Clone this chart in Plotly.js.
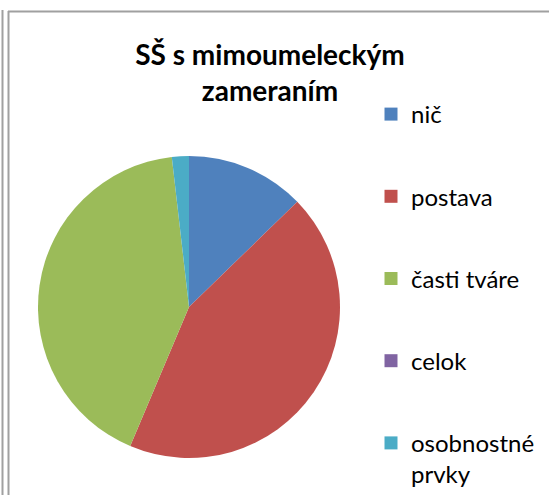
<!DOCTYPE html>
<html>
<head>
<meta charset="utf-8">
<script src="https://cdn.plot.ly/plotly-3.0.1.min.js"></script>
<style>html,body{margin:0;padding:0;background:#fff;}#chart{width:549px;height:495px;}</style>
</head>
<body>
<div id="chart"></div>
<script>
const chartTitle = "SŠ s mimoumeleckým<br>zameraním";
const categories = ["nič", "postava", "časti tváre", "celok", "osobnostné<br>prvky"];
const values = [7, 24, 23, 0, 1];
const colors = ["#4F81BD", "#C0504D", "#9BBB59", "#8064A2", "#4BACC6"];

const traces = [{
  type: "pie",
  labels: categories,
  values: values,
  sort: false,
  direction: "clockwise",
  rotation: 0,
  textinfo: "none",
  hoverinfo: "label+value+percent",
  marker: {colors: colors, line: {width: 0}},
  showlegend: false,
  domain: {x: [38/549, 340/549], y: [1 - 458/495, 1 - 156/495]}
}];
categories.forEach((c, i) => {
  traces.push({
    type: "scatter", mode: "markers", x: [null], y: [null],
    name: c, legendgroup: "g" + i, showlegend: true,
    marker: {symbol: "square", size: 13, color: colors[i]},
    hoverinfo: "skip"
  });
});

const layout = {
  width: 549, height: 495,
  margin: {l: 0, r: 0, t: 0, b: 0, autoexpand: false},
  paper_bgcolor: "#fff", plot_bgcolor: "rgba(0,0,0,0)",
  font: {family: "Lato, 'DejaVu Sans', sans-serif", color: "#000"},
  title: {
    text: chartTitle,
    x: 270/549, xanchor: "center",
    y: 1 - 65/495, yanchor: "top",
    font: {size: 28, family: "Lato, sans-serif", weight: "bold", color: "#000"}
  },
  xaxis: {visible: false, range: [0, 1]},
  yaxis: {visible: false, range: [0, 1]},
  showlegend: true,
  legend: {
    x: 371/549, xanchor: "left",
    y: 1 - 92/495, yanchor: "top",
    traceorder: "grouped",
    tracegroupgap: 48,
    valign: "top",
    itemclick: false, itemdoubleclick: false,
    font: {size: 24, family: "Lato, sans-serif", color: "#000"},
    bgcolor: "rgba(0,0,0,0)"
  },
  shapes: [
    {type: "line", xref: "paper", yref: "paper", x0: 2.5/549, x1: 2.5/549, y0: 0, y1: 1 - 10/495, line: {color: "#a0a0a0", width: 2}},
    {type: "line", xref: "paper", yref: "paper", x0: 8.5/549, x1: 8.5/549, y0: 0, y1: 1 - 11/495, line: {color: "#a0a0a0", width: 2}},
    {type: "line", xref: "paper", yref: "paper", x0: 8/549, x1: 1, y0: 1 - 11.5/495, y1: 1 - 11.5/495, line: {color: "#a0a0a0", width: 2}}
  ]
};

Plotly.newPlot("chart", traces, layout, {displayModeBar: false, staticPlot: true});
</script>
</body>
</html>
